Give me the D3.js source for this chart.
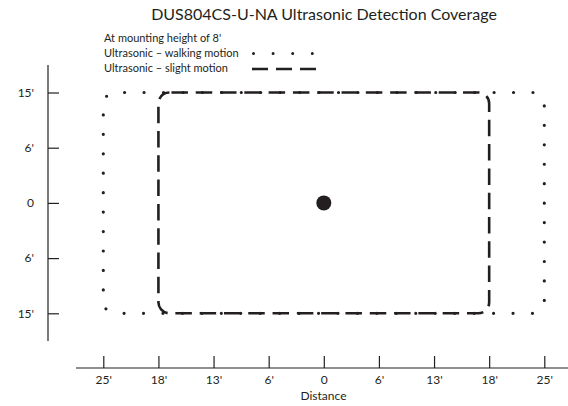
<!DOCTYPE html>
<html>
<head>
<meta charset="utf-8">
<script src="https://cdn.jsdelivr.net/npm/d3@7"></script>
<style>
  html, body { margin: 0; padding: 0; background: #fff; }
  svg { display: block; }
  text { font-family: Lato, "Open Sans", sans-serif; fill: #231f20; }
</style>
</head>
<body>
<svg id="chart" width="568" height="406"></svg>
<script>
// ---- data ----
const titleText = "DUS804CS-U-NA Ultrasonic Detection Coverage";
const xTickValues = [-25, -18, -13, -6, 0, 6, 13, 18, 25];
const xTickLabels = ["25'", "18'", "13'", "6'", "0", "6'", "13'", "18'", "25'"];
const yTickValues = [15, 6, 0, -6, -15];
const yTickLabels = ["15'", "6'", "0", "6'", "15'"];
const xAxisTitle = "Distance";
const legendLines = ["At mounting height of 8'", "Ultrasonic \u2013 walking motion", "Ultrasonic \u2013 slight motion"];
const walkingX = [-25, 25];
const walkingY = [-15, 15];
const slightX = [-18, 18];
const slightY = [-15, 15];
const sensor = [0, 0];

// ---- layout ----
const ink = "#231f20";
const svg = d3.select("#chart");

const x = d3.scaleLinear()
  .domain(xTickValues)
  .range(xTickValues.map((d, i) => 103.3 + i * 55.125));
const y = d3.scaleLinear()
  .domain(yTickValues)
  .range(yTickValues.map((d, i) => 92.5 + i * 55.2));

// title
svg.append("text")
  .attr("x", 324).attr("y", 19.5)
  .attr("text-anchor", "middle")
  .style("font-size", "16px")
  .text(titleText);

// legend
const lg = svg.append("g");
legendLines.forEach((t, i) => {
  lg.append("text")
    .attr("x", 104).attr("y", 41.5 + i * 15)
    .style("font-size", "11px")
    .text(t);
});
// legend dots
lg.append("line")
  .attr("x1", 253.5).attr("x2", 312.5).attr("y1", 53.5).attr("y2", 53.5)
  .attr("stroke", ink).attr("stroke-width", 3).attr("stroke-linecap", "round")
  .attr("stroke-dasharray", "0 19.6");
// legend dashes
lg.append("line")
  .attr("x1", 252).attr("x2", 317).attr("y1", 69).attr("y2", 69)
  .attr("stroke", ink).attr("stroke-width", 2.6)
  .attr("stroke-dasharray", "16 8");

// axes
const yAxis = d3.axisLeft(y)
  .tickValues(yTickValues)
  .tickFormat((d, i) => yTickLabels[i])
  .tickSizeInner(-11).tickSizeOuter(0).tickPadding(14);
const gy = svg.append("g").attr("transform", "translate(48,0)").call(yAxis);
gy.select(".domain").remove();
gy.append("line").attr("x1", 0).attr("x2", 0).attr("y1", 65).attr("y2", 341)
  .attr("stroke", ink).attr("stroke-width", 1.2);
gy.selectAll(".tick line").attr("stroke", ink).attr("stroke-width", 1.2);
gy.selectAll(".tick text").style("font-size", "12px").style("font-family", "Lato, sans-serif").attr("fill", ink);

const xAxis = d3.axisBottom(x)
  .tickValues(xTickValues)
  .tickFormat((d, i) => xTickLabels[i])
  .tickSizeInner(-12).tickSizeOuter(0).tickPadding(7);
const gx = svg.append("g").attr("transform", "translate(0,368)").call(xAxis);
gx.select(".domain").remove();
gx.append("line").attr("x1", 76).attr("x2", 568).attr("y1", 0).attr("y2", 0)
  .attr("stroke", ink).attr("stroke-width", 1.2);
gx.selectAll(".tick line").attr("stroke", ink).attr("stroke-width", 1.2);
gx.selectAll(".tick text").style("font-size", "12px").style("font-family", "Lato, sans-serif").attr("fill", ink);

svg.append("text")
  .attr("x", 323.5).attr("y", 400)
  .attr("text-anchor", "middle")
  .style("font-size", "12px")
  .text(xAxisTitle);

// rounded rectangle path starting at top edge (x0 + r) going clockwise
function roundedRectPath(x0, y0, x1, y1, r) {
  const p = d3.path();
  p.moveTo(x0 + r, y0);
  p.lineTo(x1 - r, y0);
  p.arcTo(x1, y0, x1, y0 + r, r);
  p.lineTo(x1, y1 - r);
  p.arcTo(x1, y1, x1 - r, y1, r);
  p.lineTo(x0 + r, y1);
  p.arcTo(x0, y1, x0, y1 - r, r);
  p.lineTo(x0, y0 + r);
  p.arcTo(x0, y0, x0 + r, y0, r);
  p.closePath();
  return p.toString();
}

// walking motion zone (dotted)
{
  const x0 = x(walkingX[0]), x1 = x(walkingX[1]);
  const y0 = y(walkingY[1]), y1 = y(walkingY[0]);
  const r = 12;
  const per = 2 * (x1 - x0 + y1 - y0) - 8 * r + 2 * Math.PI * r;
  const n = Math.round(per / 19.45);
  const step = per / n;
  svg.append("path")
    .attr("d", roundedRectPath(x0, y0, x1, y1, r))
    .attr("fill", "none")
    .attr("stroke", ink).attr("stroke-width", 3.2).attr("stroke-linecap", "round")
    .attr("stroke-dasharray", `0 ${step}`)
    .attr("stroke-dashoffset", -9.3);
}

// slight motion zone (dashed)
{
  const x0 = x(slightX[0]), x1 = x(slightX[1]);
  const y0 = y(slightY[1]), y1 = y(slightY[0]);
  const r = 11;
  svg.append("path")
    .attr("d", roundedRectPath(x0, y0, x1, y1, r))
    .attr("fill", "none")
    .attr("stroke", ink).attr("stroke-width", 2.6)
    .attr("stroke-dasharray", "16.5 7.8")
    .attr("stroke-dashoffset", -2);
}

// sensor
svg.append("circle")
  .attr("cx", x(sensor[0])).attr("cy", y(sensor[1]))
  .attr("r", 7.5)
  .attr("fill", ink);
</script>
</body>
</html>
